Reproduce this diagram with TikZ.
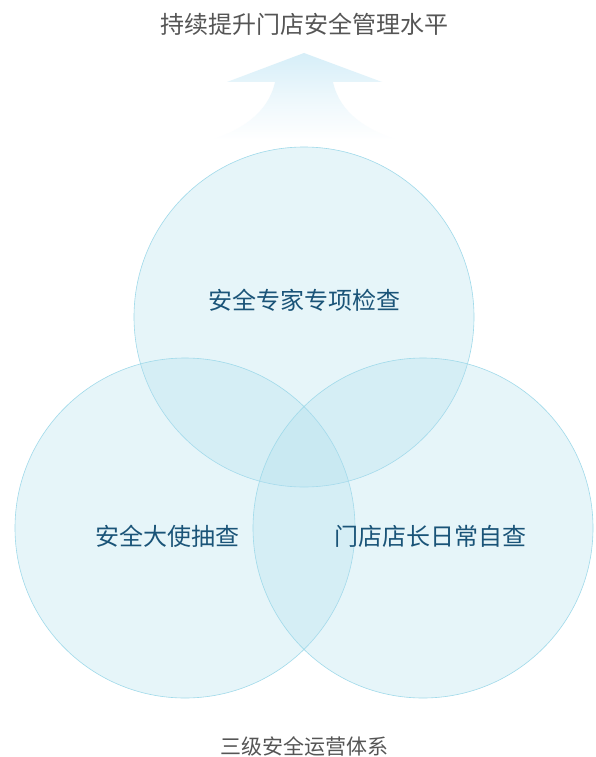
\documentclass[tikz,border=0pt]{standalone}
\usepackage{fontspec}
\setmainfont{Noto Sans CJK SC}
\begin{document}
\begin{tikzpicture}[x=1pt,y=-1pt,
  ring/.style={circle,minimum size=340pt,inner sep=0pt,draw=ringline,line width=0.6pt,fill=ringfill,fill opacity=0.3,text opacity=1},
  label/.style={text=labelblue,font=\fontsize{24}{28}\selectfont},
  caption/.style={text=captiongray,font=\fontsize{24}{28}\selectfont}]
\definecolor{ringfill}{RGB}{175,222,238}
\definecolor{ringline}{RGB}{160,218,234}
\definecolor{labelblue}{RGB}{26,84,120}
\definecolor{captiongray}{RGB}{85,85,85}
\definecolor{arrowtop}{RGB}{214,238,248}
\useasboundingbox (0,0) rectangle (596,757);
\fill[white] (0,0) rectangle (596,757);
% arrow
\shade[top color=arrowtop,bottom color=white,middle color=arrowtop!45!white]
  (304,53) -- (382,82) -- (333,82) .. controls (340,114) and (368,130) .. (397,140)
  -- (212,140) .. controls (240,130) and (268,114) .. (275,82) -- (227,82) -- cycle;
\node[caption] (title) at (304,24) {持续提升门店安全管理水平};
\node[ring] (top) at (304,317) {};
\node[ring] (left) at (185,528) {};
\node[ring] (right) at (423,528) {};
\node[label] (t1) at (304,300) {安全专家专项检查};
\node[label] (t2) at (167,536) {安全大使抽查};
\node[label] (t3) at (430,536) {门店店长日常自查};
\node[text=captiongray,font=\fontsize{21}{24}\selectfont] (bottom) at (304,746) {三级安全运营体系};
\end{tikzpicture}
\end{document}
